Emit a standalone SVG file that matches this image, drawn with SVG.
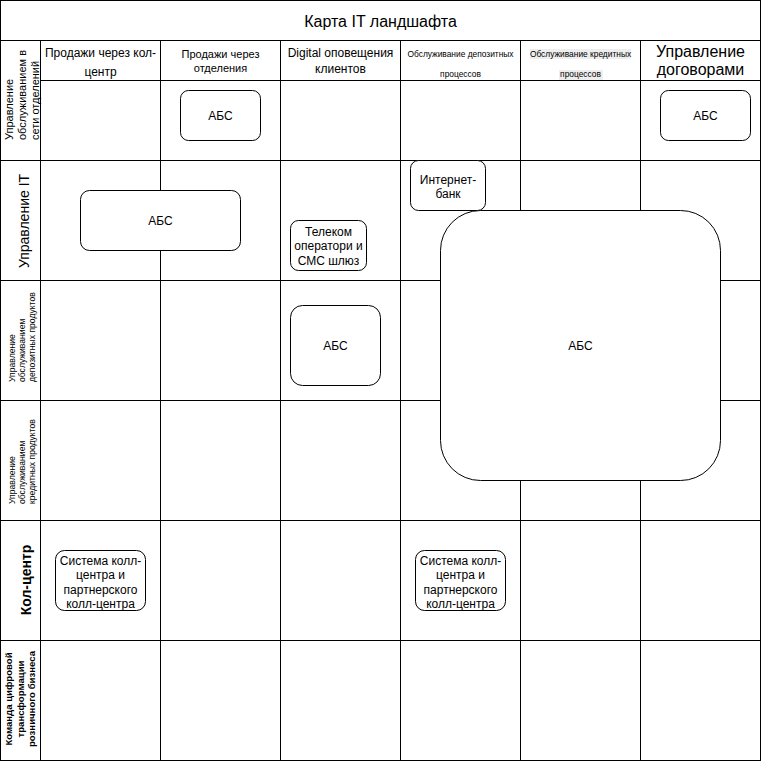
<svg xmlns="http://www.w3.org/2000/svg" width="761" height="761" viewBox="0 0 761 761">
<style>
.grid line{stroke:#000;stroke-width:1}
.node rect{fill:#fff;stroke:#000;stroke-width:1}
text{font-family:"Liberation Sans",Arial,sans-serif;fill:#000}
.c{text-anchor:middle}
.s{text-anchor:start}
.f12{font-size:12px}
.f11{font-size:11px}
.f9{font-size:8.6px}
.f16{font-size:16px}
.f14{font-size:14px}
.b{font-weight:bold}
</style>
<rect x="0" y="0" width="761" height="761" fill="#fff"/>
<g id="lanes" class="grid">
<rect x="0.5" y="0.5" width="760" height="760" fill="none" stroke="#000"/>
<line x1="0" y1="40.5" x2="761" y2="40.5"/>
<line x1="40" y1="80.5" x2="761" y2="80.5"/>
<line x1="0" y1="160.5" x2="761" y2="160.5"/>
<line x1="0" y1="280.5" x2="761" y2="280.5"/>
<line x1="0" y1="400.5" x2="761" y2="400.5"/>
<line x1="0" y1="520.5" x2="761" y2="520.5"/>
<line x1="0" y1="640.5" x2="761" y2="640.5"/>
<line x1="40.5" y1="40" x2="40.5" y2="761"/>
<line x1="160.5" y1="40" x2="160.5" y2="761"/>
<line x1="280.5" y1="40" x2="280.5" y2="761"/>
<line x1="400.5" y1="40" x2="400.5" y2="761"/>
<line x1="520.5" y1="40" x2="520.5" y2="761"/>
<line x1="640.5" y1="40" x2="640.5" y2="761"/>
</g>
<g id="title"><text class="c f16" x="380.5" y="27">Карта IT ландшафта</text></g>
<g id="col-headers">
<text class="c f12" x="100.5" y="56.5">Продажи через кол-</text>
<text class="c f12" x="100.5" y="76">центр</text>
<text class="c f11" x="220.5" y="58">Продажи через</text>
<text class="c f11" x="220.5" y="72">отделения</text>
<text class="c f12" x="340.5" y="57">Digital оповещения</text>
<text class="c f12" x="340.5" y="73">клиентов</text>
<text class="c" style="font-size:8.4px" x="460.5" y="56.5">Обслуживание депозитных</text>
<text class="c" style="font-size:8.4px" x="460.5" y="77">процессов</text>
<rect x="530" y="49" width="101" height="10" fill="#eeeeee"/>
<rect x="559" y="70" width="44" height="10" fill="#eeeeee"/>
<text class="c" style="font-size:8.4px" x="580.5" y="56.5">Обслуживание кредитных</text>
<text class="c" style="font-size:8.4px" x="580.5" y="77">процессов</text>
<text class="c f16" x="700.5" y="56.5">Управление</text>
<text class="c f16" x="700.5" y="75">договорами</text>
</g>
<g id="row-headers">
<g transform="translate(0,140) rotate(-90)">
<text class="s f11" x="0" y="13">Управление</text>
<text class="s f11" x="0" y="26">обслуживанием в</text>
<text class="s f11" x="0" y="39">сети отделений</text>
</g>
<g transform="translate(0,221) rotate(-90)">
<text class="c f14" x="0" y="29">Управление IT</text>
</g>
<g transform="translate(0,382) rotate(-90)">
<text class="s f9" x="0" y="14.5">Управление</text>
<text class="s f9" x="0" y="24.5">обслуживанием</text>
<text class="s f9" x="0" y="34.5">депозитных продуктов</text>
</g>
<g transform="translate(0,504) rotate(-90)">
<text class="s f9" x="0" y="14.5">Управление</text>
<text class="s f9" x="0" y="24.5">обслуживанием</text>
<text class="s f9" x="0" y="34.5">кредитных продуктов</text>
</g>
<g transform="translate(0,580) rotate(-90)">
<text class="c f14 b" x="0" y="30.5">Кол-центр</text>
</g>
<g transform="translate(0,699) rotate(-90)">
<text class="c b" style="font-size:9.6px" x="0" y="12">Команда цифровой</text>
<text class="c b" style="font-size:9.6px" x="0" y="23.5">трансформации</text>
<text class="c b" style="font-size:9.6px" x="0" y="35">розничного бизнеса</text>
</g>
</g>
<g id="connectors"></g>
<g id="node-abs-1" class="node">
<rect x="180.5" y="90.5" width="80" height="50" rx="8"/>
<text class="c f12" x="220.5" y="119.5">АБС</text>
</g>
<g id="node-abs-6" class="node">
<rect x="660.5" y="90.5" width="90" height="50" rx="8"/>
<text class="c f12" x="705.5" y="119.5">АБС</text>
</g>
<g id="node-abs-it" class="node">
<rect x="80.5" y="190.5" width="160" height="60" rx="9"/>
<text class="c f12" x="160.5" y="225">АБС</text>
</g>
<g id="node-telecom" class="node">
<rect x="290.5" y="220.5" width="76" height="50" rx="8"/>
<text class="c f12" x="328.5" y="235.5">Телеком</text>
<text class="c f12" x="328.5" y="250">оператори и</text>
<text class="c f12" x="328.5" y="264.5">СМС шлюз</text>
</g>
<g id="node-abs-big" class="node">
<rect x="440.5" y="210.5" width="280" height="270" rx="40"/>
<text class="c f12" x="580.5" y="349.5">АБС</text>
</g>
<g id="node-internet-bank" class="node">
<rect x="410.5" y="160.5" width="75" height="50" rx="8"/>
<text class="c f12" x="448" y="183.5">Интернет-</text>
<text class="c f12" x="448" y="197.5">банк</text>
</g>
<g id="node-abs-dep" class="node">
<rect x="290.5" y="305.5" width="90" height="80" rx="12"/>
<text class="c f12" x="335.5" y="349.5">АБС</text>
</g>
<g id="node-callcenter-1" class="node">
<rect x="55.5" y="550.5" width="90" height="60" rx="9"/>
<text class="c f12" x="100.5" y="564.5">Система колл-</text>
<text class="c f12" x="100.5" y="579">центра и</text>
<text class="c f12" x="100.5" y="593.5">партнерского</text>
<text class="c f12" x="100.5" y="608">колл-центра</text>
</g>
<g id="node-callcenter-2" class="node">
<rect x="415.5" y="550.5" width="90" height="60" rx="9"/>
<text class="c f12" x="460.5" y="564.5">Система колл-</text>
<text class="c f12" x="460.5" y="579">центра и</text>
<text class="c f12" x="460.5" y="593.5">партнерского</text>
<text class="c f12" x="460.5" y="608">колл-центра</text>
</g>
</svg>
